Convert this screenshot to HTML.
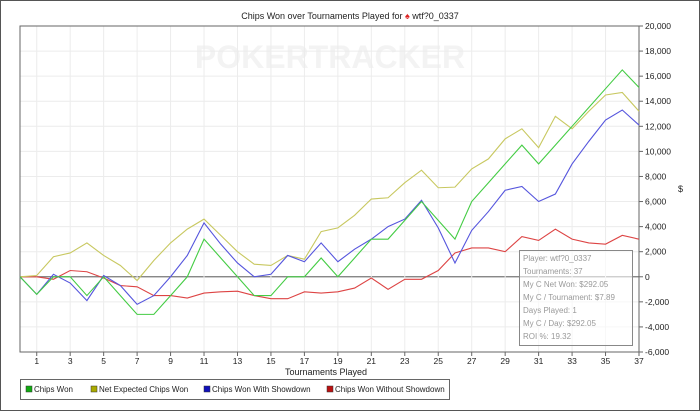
<!DOCTYPE html>
<html><head><meta charset="utf-8"><style>
html,body{margin:0;padding:0;background:#fff;}
body{width:700px;height:411px;overflow:hidden;font-family:"Liberation Sans",sans-serif;}
svg text{font-family:"Liberation Sans",sans-serif;}
</style></head><body>
<svg id="chart" width="700" height="411" xmlns="http://www.w3.org/2000/svg">
<rect x="0.5" y="0.5" width="699" height="410" fill="#fff" stroke="#555"/>
<text x="350" y="19" font-size="9" text-anchor="middle" fill="#222">Chips Won over Tournaments Played for <tspan fill="#d22">♠</tspan> wtf?0_0337</text>
<text x="330" y="68" font-size="32" font-weight="bold" text-anchor="middle" fill="#f3f3f3">POKERTRACKER</text>
<g id="grid"></g>
<rect x="20" y="26" width="619" height="326" fill="none" stroke="#666"/>
<g id="axes"></g>
<g id="series"></g>
<text x="326" y="375" font-size="9" text-anchor="middle" fill="#222">Tournaments Played</text>
<text x="678" y="192" font-size="9" fill="#222">$</text>
<g>
<rect x="519.5" y="250.5" width="113" height="95" fill="#fff" fill-opacity="0.6" stroke="#888"/>
<g font-size="8" fill="#999">
<text x="523" y="261">Player: wtf?0_0337</text>
<text x="523" y="274">Tournaments: 37</text>
<text x="523" y="287">My C Net Won: $292.05</text>
<text x="523" y="300">My C / Tournament: $7.89</text>
<text x="523" y="313">Days Played: 1</text>
<text x="523" y="326">My C / Day: $292.05</text>
<text x="523" y="339">ROI %: 19.32</text>
</g></g>
<g>
<rect x="20.5" y="379.5" width="429" height="20" fill="#fff" stroke="#666"/>
<g font-size="8" fill="#222">
<rect x="26" y="386" width="6" height="6" fill="#1a1" stroke="#333" stroke-width="0.5"/><text x="34" y="392">Chips Won</text>
<rect x="91" y="386" width="6" height="6" fill="#aa0" stroke="#333" stroke-width="0.5"/><text x="99" y="392">Net Expected Chips Won</text>
<rect x="204" y="386" width="6" height="6" fill="#11b" stroke="#333" stroke-width="0.5"/><text x="212" y="392">Chips Won With Showdown</text>
<rect x="327" y="386" width="6" height="6" fill="#b11" stroke="#333" stroke-width="0.5"/><text x="335" y="392">Chips Won Without Showdown</text>
</g></g>
</svg>
<script>
const yTicks=[-6000,-4000,-2000,0,2000,4000,6000,8000,10000,12000,14000,16000,18000,20000];
const xTicks=[1,3,5,7,9,11,13,15,17,19,21,23,25,27,29,31,33,35,37];
const chipsWon=[0,-1400,0,0,-1500,0,-1500,-3000,-3000,-1500,0,3000,1500,0,-1500,-1500,0,0,1500,0,1500,3000,3000,4500,6000,4500,3000,6000,7500,9000,10500,9000,10500,12000,13500,15000,16500,15100];
const netExpected=[0,100,1600,1900,2700,1700,900,-300,1300,2700,3800,4600,3300,2000,1000,900,1700,1400,3600,3900,4900,6200,6300,7500,8500,7100,7150,8600,9400,11000,11800,10300,12800,11800,13200,14500,14700,13200];
const withShowdown=[0,-1400,200,-500,-1900,100,-700,-2200,-1500,0,1700,4300,2600,1100,0,200,1700,1200,2700,1200,2200,3000,4000,4600,6100,3900,1100,3700,5200,6900,7200,6000,6600,9000,10800,12500,13300,12100];
const withoutShowdown=[0,0,-200,500,400,-100,-700,-800,-1500,-1500,-1700,-1300,-1200,-1150,-1500,-1750,-1750,-1200,-1300,-1200,-900,-100,-1000,-200,-200,500,1900,2300,2300,2000,3200,2900,3800,3000,2700,2600,3300,3000];
const L=20,R=639,T=26,B=352,yMin=-6000,yMax=20000,xMax=37;
const xs=i=>L+(R-L)*i/xMax;
const ys=v=>B-(B-T)*(v-yMin)/(yMax-yMin);
const NS='http://www.w3.org/2000/svg';
const grid=document.getElementById('grid'),axes=document.getElementById('axes'),ser=document.getElementById('series');
function mk(tag,attrs,parent){const e=document.createElementNS(NS,tag);for(const k in attrs)e.setAttribute(k,attrs[k]);parent.appendChild(e);return e;}
yTicks.forEach(v=>{
  const y=ys(v);
  const g=mk('line',{x1:L,x2:R,y1:y,y2:y,stroke:v===0?'#777':'#ececec','stroke-width':v===0?1.2:1},grid);
  
  
  const tk=mk('line',{x1:R,x2:R+4,y1:y,y2:y,stroke:'#666'},axes);
  
  
  const t=mk('text',{x:R+6,y:y+3,'font-size':8.5,fill:'#222'},axes);
  t.textContent=v.toLocaleString('en-US');
  
  
});
xTicks.forEach(v=>{
  const x=xs(v);
  const g=mk('line',{x1:x,x2:x,y1:T,y2:B,stroke:'#ececec'},grid);
  
  
  const tk=mk('line',{x1:x,x2:x,y1:B,y2:B+4,stroke:'#666'},axes);
  
  
  const t=mk('text',{x:x,y:B+12,'font-size':8.5,fill:'#222','text-anchor':'middle'},axes);
  t.textContent=v;
  
  
});
function line(data,color,name){
  const p=mk('polyline',{points:data.map((v,i)=>xs(i)+','+ys(v)).join(' '),fill:'none',stroke:color,'stroke-width':1.1},ser);
  
  
}
line(withoutShowdown,'#d44','line-chips-won-without-showdown');
line(netExpected,'#c8c860','line-net-expected-chips-won');
line(withShowdown,'#55d','line-chips-won-with-showdown');
line(chipsWon,'#4c4','line-chips-won');
</script>
</body></html>
